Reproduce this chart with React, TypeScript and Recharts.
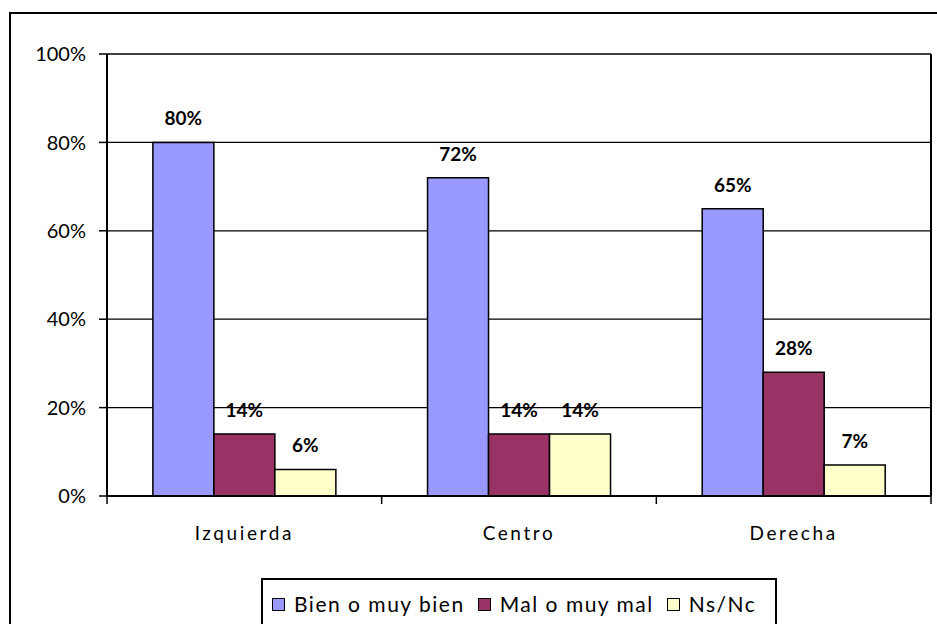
import React from 'react';
import { BarChart, Bar, XAxis, YAxis, CartesianGrid, Legend, LabelList } from 'recharts';

const categories = ['Izquierda', 'Centro', 'Derecha'];
const bienValues = [80, 72, 65];
const malValues = [14, 14, 28];
const nsncValues = [6, 14, 7];
const yTicks = [0, 20, 40, 60, 80, 100];

const seriesList = [
  { key: 'bien', name: 'Bien o muy bien', color: '#9999FF' },
  { key: 'mal', name: 'Mal o muy mal', color: '#993366' },
  { key: 'nsnc', name: 'Ns/Nc', color: '#FFFFCC' },
];

const chartData = categories.map((name, i) => ({
  name,
  bien: bienValues[i],
  mal: malValues[i],
  nsnc: nsncValues[i],
}));

const pct = (v: number) => `${v}%`;

const LABEL_GAP = 31;

// category label plus the tick marks on the band edges
const CategoryTick = (props: any) => {
  const { x, y, payload, index } = props;
  const half = payload.offset || 0;
  const axisY = y - LABEL_GAP;
  const last = index === categories.length - 1;
  return (
    <g>
      <line x1={x - half} x2={x - half} y1={axisY} y2={axisY + 8} stroke="#000" strokeWidth={1.5} />
      {last && <line x1={x + half} x2={x + half} y1={axisY} y2={axisY + 8} stroke="#000" strokeWidth={1.5} />}
      <text x={x} y={y} dy="0.71em" textAnchor="middle" fill="#000" fontSize={19} letterSpacing={2.6}>
        {payload.value}
      </text>
    </g>
  );
};

const LegendBox = () => (
  <div
    style={{
      boxSizing: 'border-box',
      width: 516,
      height: 52,
      border: '2px solid #000',
      background: '#fff',
      display: 'flex',
      alignItems: 'flex-start',
      paddingTop: 12,
      paddingLeft: 9,
      fontSize: 21,
      letterSpacing: 1.5,
      color: '#000',
    }}
  >
    {seriesList.map((s, i) => (
      <div key={s.key} style={{ display: 'flex', alignItems: 'center', marginRight: i < 2 ? 13 : 0 }}>
        <span
          style={{
            display: 'inline-block',
            width: 11,
            height: 11,
            background: s.color,
            border: '1px solid #000',
            marginRight: 9,
          }}
        />
        <span style={{ lineHeight: '24px' }}>{s.name}</span>
      </div>
    ))}
  </div>
);

export default function App() {
  return (
    <div
      style={{
        position: 'fixed',
        left: 0,
        top: 0,
        width: 937,
        height: 624,
        overflow: 'hidden',
        background: '#fff',
        fontFamily: 'Lato, sans-serif',
      }}
    >
      <div
        style={{
          position: 'absolute',
          left: 9,
          top: 12,
          width: 960,
          height: 700,
          border: '2px solid #000',
        }}
      />
      <div style={{ position: 'absolute', left: 0, top: 0 }}>
        <BarChart
          width={937}
          height={624}
          data={chartData}
          margin={{ top: 54, right: 0, bottom: 0, left: 0 }}
          barCategoryGap="16.7%"
          barGap={0}
        >
          <CartesianGrid xAxisId="cat" yAxisId="left" vertical={false} stroke="#000" strokeWidth={1.3} />
          <XAxis
            xAxisId="cat"
            dataKey="name"
            height={82}
            axisLine={{ stroke: '#000', strokeWidth: 2 }}
            tickLine={false}
            tickSize={0}
            tickMargin={LABEL_GAP}
            tick={<CategoryTick />}
          />
          <YAxis
            yAxisId="left"
            width={107}
            domain={[0, 100]}
            ticks={yTicks}
            tickFormatter={pct}
            tickSize={8}
            tickMargin={13}
            tick={{ fill: '#000', fontSize: 20 }}
            tickLine={{ stroke: '#000', strokeWidth: 1.5 }}
            axisLine={{ stroke: '#000', strokeWidth: 2 }}
          />
          <YAxis
            yAxisId="right"
            orientation="right"
            width={6}
            domain={[0, 100]}
            ticks={yTicks}
            tick={false}
            tickLine={false}
            axisLine={{ stroke: '#000', strokeWidth: 2 }}
          />
          <Legend
            verticalAlign="bottom"
            content={() => <LegendBox />}
            wrapperStyle={{ left: 261, top: 578, width: 516, height: 46 }}
          />
          {seriesList.map((s) => (
            <Bar
              key={s.key}
              xAxisId="cat"
              yAxisId="left"
              dataKey={s.key}
              name={s.name}
              fill={s.color}
              stroke="#000"
              strokeWidth={1.5}
              isAnimationActive={false}
            >
              <LabelList
                dataKey={s.key}
                position="top"
                offset={17}
                formatter={(v: any) => pct(v)}
                style={{ fill: '#000', fontSize: 19, fontWeight: 700 }}
              />
            </Bar>
          ))}
        </BarChart>
      </div>
    </div>
  );
}
